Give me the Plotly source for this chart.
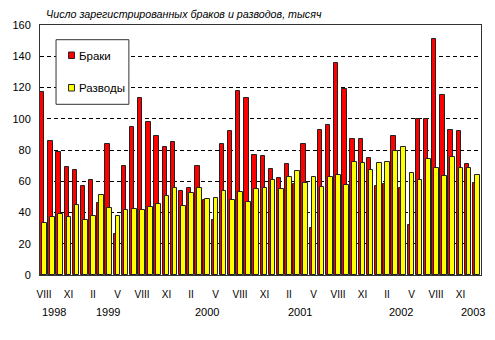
import plotly.graph_objects as go

# Monthly data, Aug 1998 .. Jan 2003 (thousands)
marriages = [117, 86, 79, 69, 67, 57, 61, 46, 84, 26, 70, 95,
             113, 98, 89, 82, 85, 53.5, 56, 70, 48, 35, 84, 92,
             118, 113, 77, 76, 68, 62, 71, 58, 84, 30, 93, 96,
             135.5, 119, 87, 87, 75, 57, 58, 89, 56, 32, 100, 100,
             151, 115, 93, 92, 71, 59]
divorces = [33, 37, 39, 37, 44.6, 35, 38, 51, 43, 37.5, 41.4, 42,
            41.4, 43.3, 45.2, 50.3, 55.4, 43.9, 52.3, 55.4, 48.4, 49, 53.5, 47.8,
            52.9, 46.5, 54.8, 55.4, 60.6, 54.8, 62.5, 66.4, 58.7, 62.5, 56.1, 62.5,
            63.8, 57.4, 72.1, 71.5, 67, 71.5, 72.1, 79.2, 81.7, 65.1, 60.6, 74,
            68.3, 63.2, 75.3, 68.3, 68.3, 63.8]
month_labels = ["VIII", "XI", "II", "V", "VIII", "XI", "II", "V", "VIII", "XI",
                "II", "V", "VIII", "XI", "II", "V", "VIII", "XI"]
years = ["1998", "1999", "2000", "2001", "2002", "2003"]
series_names = ["Браки", "Разводы"]
title_text = "Число зарегистрированных браков и разводов, тысяч"

# layout helpers (positions, not data)
year_pos = [1.27, 7.85, 19.9, 31.3, 43.65, 52.5]
tick_idx = list(range(0, len(marriages), 3))
x = list(range(len(marriages)))

FONT = "Arial, Liberation Sans, sans-serif"
EDGE = "#222222"

W, H = 495, 340
L, R, T, B = 33, 14, 25, 65
pw, ph = W - L - R, H - T - B
def px(xp):
    return (xp - L) / pw
def py(yp):
    return (H - B - yp) / ph

fig = go.Figure()
fig.add_trace(go.Bar(x=x, y=marriages, name=series_names[0],
                     marker=dict(color="#FF0000", line=dict(color=EDGE, width=1)),
                     offset=-0.49, width=0.54, showlegend=False))
fig.add_trace(go.Bar(x=x, y=divorces, name=series_names[1],
                     marker=dict(color="#FFFF00", line=dict(color=EDGE, width=1)),
                     offset=-0.24, width=0.56, showlegend=False))

annotations = []
for yr, p in zip(years, year_pos):
    annotations.append(dict(x=p, y=py(312), xref="x", yref="paper", text=yr,
                            showarrow=False, xanchor="center", yanchor="middle",
                            font=dict(family=FONT, size=11, color="black")))
annotations.append(dict(x=px(37), y=py(14), xref="paper", yref="paper",
                        text="<i>" + title_text + "</i>",
                        showarrow=False, xanchor="left", yanchor="middle",
                        font=dict(family=FONT, size=10.7, color="black")))

# legend (drawn manually)
shapes = [
    dict(type="rect", xref="paper", yref="paper", x0=px(49.3), x1=px(123.3),
         y0=py(104.3), y1=py(39.7), line=dict(color="#333333", width=1), fillcolor="white",
         layer="above"),
    dict(type="rect", xref="paper", yref="paper", x0=px(62), x1=px(68),
         y0=py(58.5), y1=py(52), line=dict(color=EDGE, width=1), fillcolor="#FF0000",
         layer="above"),
    dict(type="rect", xref="paper", yref="paper", x0=px(62), x1=px(68),
         y0=py(91), y1=py(84.5), line=dict(color=EDGE, width=1), fillcolor="#FFFF00",
         layer="above"),
]
annotations.append(dict(x=px(70.5), y=py(55.5), xref="paper", yref="paper", text=series_names[0],
                        showarrow=False, xanchor="left", yanchor="middle",
                        font=dict(family=FONT, size=11.5, color="black")))
annotations.append(dict(x=px(70.5), y=py(88), xref="paper", yref="paper", text=series_names[1],
                        showarrow=False, xanchor="left", yanchor="middle",
                        font=dict(family=FONT, size=11.5, color="black")))

fig.update_layout(
    width=W, height=H, autosize=False,
    margin=dict(l=L, r=R, t=T, b=B, pad=0),
    paper_bgcolor="white", plot_bgcolor="white",
    barmode="overlay", bargap=0,
    shapes=shapes, annotations=annotations,
    font=dict(family=FONT, size=11, color="black"),
)
fig.update_xaxes(range=[-0.5, len(marriages) - 0.5], tickvals=tick_idx, ticktext=month_labels,
                 showgrid=False, zeroline=False, showline=True, linecolor="#333333",
                 linewidth=1, mirror=True, ticks="", ticklabelstandoff=10,
                 tickfont=dict(family=FONT, size=10, color="black"))
fig.update_yaxes(range=[0, 160], dtick=20, showgrid=True, gridcolor="black", gridwidth=1,
                 griddash="4px,3px", zeroline=False, showline=True, linecolor="#333333",
                 linewidth=1, mirror=True, ticks="", ticklabelstandoff=6,
                 tickfont=dict(family=FONT, size=11, color="black"))

fig.write_html("out.html")
